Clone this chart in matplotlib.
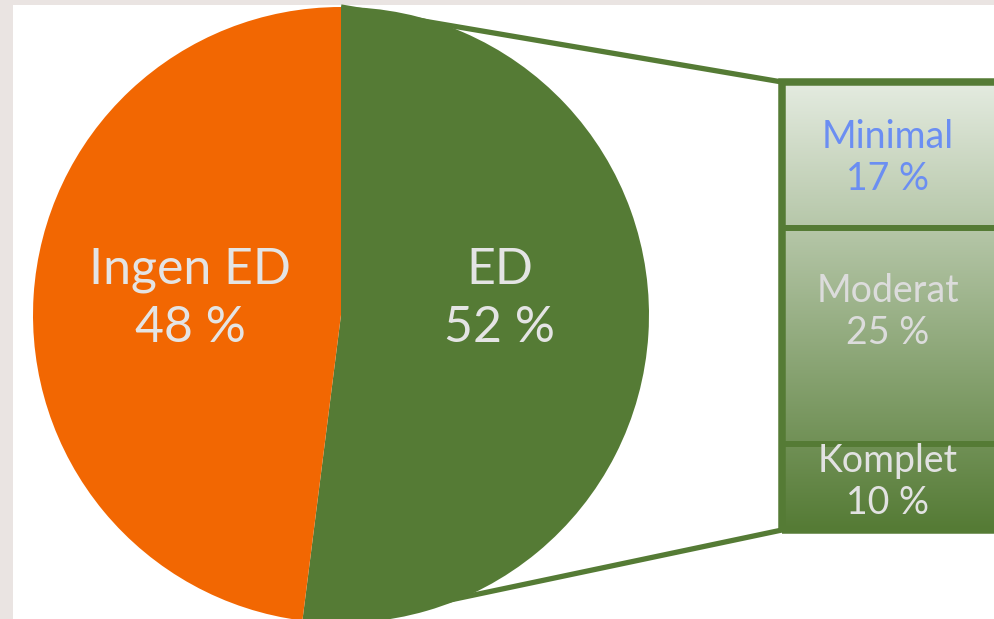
import numpy as np
import matplotlib.pyplot as plt
from matplotlib.colors import LinearSegmentedColormap
from matplotlib.patches import Rectangle

plt.rcParams['font.family'] = ['Lato', 'DejaVu Sans']

# pie: share with / without ED
pie_labels = ['ED', 'Ingen ED']
pie_values = [52, 48]
pie_colors = ['#557b35', '#f26702']

# bar: breakdown of the ED share, top to bottom
bar_labels = ['Minimal', 'Moderat', 'Komplet']
bar_values = [17, 25, 10]
bar_text_colors = ['#6b8ef2', '#dcdcdc', '#e2e2e2']
bar_text_y = [461, 307, 137]

W, H = 994, 619
fig = plt.figure(figsize=(W / 100, H / 100), dpi=100)
fig.patch.set_facecolor('#eae4e2')
ax = fig.add_axes([0, 0, 1, 1])

# white panel
ax.add_patch(Rectangle((13, 0), W, H - 5, facecolor='white', edgecolor='none', zorder=0))

green = '#557b35'
cx, cy, r = 341, 304, 308

wedges, _ = ax.pie(pie_values, colors=pie_colors, startangle=90, counterclock=False,
                   radius=r, center=(cx, cy), frame=True,
                   wedgeprops=dict(linewidth=0, zorder=3))
ax.set_xlim(0, W)
ax.set_ylim(0, H)
ax.set_aspect('equal')
ax.axis('off')

# bar geometry
bx0, bx1 = 782, 1010
btop, bbot = 537, 89
scale = (btop - bbot) / sum(bar_values)

# connector lines from the top and bottom of the pie to the bar corners
ax.plot([cx, bx0], [cy + r, btop], color=green, lw=3.8, zorder=2, solid_capstyle='butt')
ax.plot([cx, bx0], [cy - r, bbot], color=green, lw=3.8, zorder=2, solid_capstyle='butt')

# gradient fill of the bar
cmap = LinearSegmentedColormap.from_list('bar', ['#557b35', '#e4ebe0'])
grad = np.linspace(0, 1, 256).reshape(-1, 1)
ax.imshow(grad, cmap=cmap, origin='lower', aspect='auto',
          extent=[bx0, bx1, bbot, btop], zorder=4)

top = btop
for lab, val, tc, ty in zip(bar_labels, bar_values, bar_text_colors, bar_text_y):
    h = val * scale
    ax.bar(bx0, h, width=bx1 - bx0, bottom=top - h, align='edge',
           facecolor='none', edgecolor=green, linewidth=4.2, zorder=5)
    ax.text(888, ty, f'{lab}\n{val} %', ha='center', va='center',
            color=tc, fontsize=27, linespacing=1.2, zorder=6)
    top -= h

# heavier outer frame around the whole bar
ax.add_patch(Rectangle((bx0, bbot), bx1 - bx0, btop - bbot, facecolor='none',
                       edgecolor=green, linewidth=5.4, zorder=5))

# pie labels
ax.text(190, 320, f'{pie_labels[1]}\n{pie_values[1]} %', ha='center', va='center',
        color='#e4e4e4', fontsize=36, linespacing=1.3, zorder=6)
ax.text(500, 320, f'{pie_labels[0]}\n{pie_values[0]} %', ha='center', va='center',
        color='#e4e4e4', fontsize=36, linespacing=1.3, zorder=6)

fig.savefig('out.png', dpi=100, facecolor=fig.get_facecolor())
